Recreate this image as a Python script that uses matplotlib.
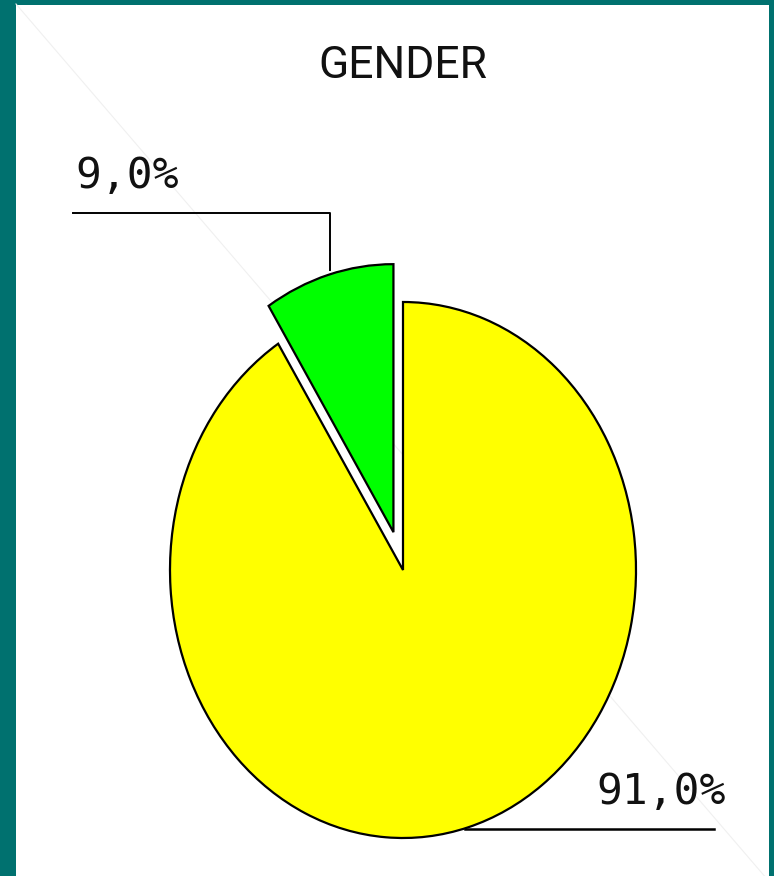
import matplotlib
matplotlib.use("Agg")
import matplotlib.pyplot as plt
from matplotlib.patches import Rectangle

# data
categories = ["Female", "Male"]
values = [91.0, 9.0]
colors = ["#ffff00", "#00ff00"]
title = "GENDER"

W, H = 774, 876
fig = plt.figure(figsize=(W / 100, H / 100), dpi=100)
fig.patch.set_facecolor("#00716f")

# background axes in pixel coords
bg = fig.add_axes([0, 0, 1, 1])
bg.set_xlim(0, W)
bg.set_ylim(H, 0)
bg.axis("off")
bg.add_patch(Rectangle((16, 5), 753, 880, facecolor="white", edgecolor="none"))
# faint diagonal seen on the slide background
bg.plot([16, 767], [4, 879], color="#f0f0f0", lw=0.8)

bg.text(403, 78, title, ha="center", va="baseline", fontsize=32,
        family=["Roboto", "DejaVu Sans"], fontweight="normal", color="#111111")

# pie centre and radii in pixels (pie is stretched vertically)
cx, cy, rx, ry = 403, 570, 233, 268
ax = fig.add_axes([0, 0, 1, 1])
ax.patch.set_alpha(0)
wedges, _ = ax.pie(values, colors=colors, startangle=90, counterclock=False,
                   explode=[0, 0.147],
                   wedgeprops=dict(edgecolor="black", linewidth=1.6))
ax.set_aspect("auto")
ax.set_xlim(-cx / rx, (W - cx) / rx)
ax.set_ylim((cy - H) / ry, cy / ry)
ax.axis("off")

labels = [f"{v:.1f}".replace(".", ",") + "%" for v in values]
mono = dict(family="DejaVu Sans Mono", fontsize=31, color="#111111")

# 9,0% label with elbow leader
bg.text(75, 188, labels[1], ha="left", va="baseline", **mono)
bg.plot([73, 330, 330], [213, 213, 270], color="black", lw=1.4)

# 91,0% label with leader
bg.text(596, 804, labels[0], ha="left", va="baseline", **mono)
bg.plot([465, 714], [829, 829], color="black", lw=1.8, zorder=1)

fig.savefig("out.png", dpi=100, facecolor=fig.get_facecolor())
